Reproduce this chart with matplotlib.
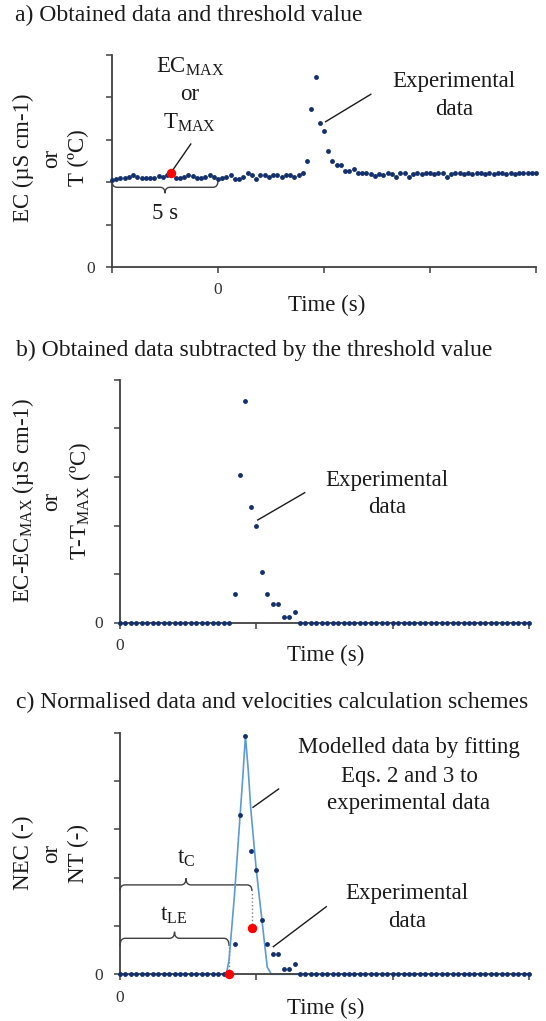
import numpy as np
import matplotlib
matplotlib.use("Agg")
import matplotlib.pyplot as plt
from matplotlib.path import Path
from matplotlib.patches import PathPatch
from matplotlib.lines import Line2D

plt.rcParams['font.family'] = ['Liberation Serif', 'DejaVu Serif']
plt.rcParams['mathtext.fontset'] = 'custom'
plt.rcParams['mathtext.rm'] = 'Liberation Serif'
plt.rcParams['mathtext.it'] = 'Liberation Serif:italic'
plt.rcParams['mathtext.bf'] = 'Liberation Serif:bold'

# ---------------------------------------------------------------- data
STEP = 0.2  # sampling interval (s)

# a) raw signal, sampled from -5 s to 15 s
time_a = np.round(np.arange(-5.0, 15.0 + STEP / 2, STEP), 1)
signal_a = [
    2.05, 2.07, 2.09, 2.11, 2.13, 2.17, 2.13, 2.11, 2.09, 2.09,
    2.11, 2.15, 2.13, 2.17, 2.22, 2.09, 2.11, 2.13, 2.17, 2.15,
    2.09, 2.09, 2.13, 2.17, 2.13, 2.07, 2.11, 2.13, 2.17, 2.07,
    2.07, 2.12, 2.21, 2.17, 2.07, 2.17, 2.17, 2.12, 2.17, 2.17,
    2.12, 2.17, 2.17, 2.12, 2.17, 2.21, 2.51, 3.73, 4.49, 3.40,
    3.21, 2.74, 2.51, 2.41, 2.41, 2.26, 2.26, 2.31, 2.22, 2.22,
    2.22, 2.19, 2.15, 2.19, 2.17, 2.22, 2.19, 2.13, 2.22, 2.22,
    2.13, 2.19, 2.22, 2.19, 2.22, 2.22, 2.19, 2.22, 2.22, 2.13,
    2.19, 2.22, 2.22, 2.19, 2.22, 2.19, 2.22, 2.22, 2.19, 2.22,
    2.19, 2.22, 2.22, 2.19, 2.22, 2.19, 2.22, 2.22, 2.22, 2.22,
    2.22,
]
threshold_index = 14          # maximum of the first 5 s (EC_MAX / T_MAX)

# b) signal minus threshold, from 0 s to 15 s
time_bc = np.round(np.arange(0.0, 15.0 + STEP / 2, STEP), 1)
signal_b = ([0.0] * 21
            + [0.58, 3.05, 4.57, 2.38, 2.00, 1.05, 0.58, 0.39, 0.39, 0.12, 0.12, 0.21]
            + [0.0] * 43)

# c) normalised signal and fitted model
signal_c = ([0.0] * 21
            + [0.124, 0.658, 0.986, 0.512, 0.430, 0.225, 0.124, 0.084, 0.084, 0.022, 0.022, 0.043]
            + [0.0] * 43)
model_t = [0.0, 3.9, 4.0, 4.2, 4.4, 4.5, 4.6, 4.7, 4.8, 5.0, 5.2, 5.4, 5.55, 15.0]
model_v = [0.0, 0.0, 0.06, 0.33, 0.65, 0.81, 0.986, 0.85, 0.68, 0.43, 0.23, 0.03, 0.0, 0.0]
t_le = 4.0                    # leading-edge arrival time
t_c = 4.84                    # centroid time
t_c_marker_level = 0.19

# ---------------------------------------------------------------- style
W, H = 546, 1021
DOT = '#13306c'
RED = '#ff0000'
MODEL = '#5b9bd5'
AXIS = '#404040'
INK = '#1a1a1a'
FS = 16.5
FS_TITLE = 17

fig = plt.figure(figsize=(W / 100, H / 100), dpi=100)


def fig_xy(x, y):
    """Pixel position (from top-left) to figure fraction."""
    return x / W, 1 - y / H


def axes_px(left, top, right, bottom):
    return fig.add_axes([left / W, 1 - bottom / H, (right - left) / W, (bottom - top) / H])


def style_axes(ax, xlim, ylim, xticks, yticks):
    ax.set_xlim(*xlim)
    ax.set_ylim(*ylim)
    ax.patch.set_visible(False)
    for s in ('top', 'right'):
        ax.spines[s].set_visible(False)
    for s in ('left', 'bottom'):
        ax.spines[s].set_color(AXIS)
        ax.spines[s].set_linewidth(1.3)
    ax.set_xticks(xticks)
    ax.set_xticklabels(['0' if t == 0 else '' for t in xticks])
    ax.set_yticks(yticks)
    ax.set_yticklabels(['0' if t == 0 else '' for t in yticks])
    ax.tick_params(direction='out', length=4, width=1.1, color=AXIS,
                   labelsize=12.5, labelcolor='#333333')
    ax.tick_params(axis='x', pad=7)
    ax.tick_params(axis='y', pad=8.5)


def brace(ax, x0, x1, xm, y_end, y_bar, y_tip, r_px=5, color=AXIS, lw=1.0):
    """Horizontal curly brace between x0 and x1 with its tip at xm."""
    x_lo, x_hi = ax.get_xlim()
    width_px = ax.get_position().width * W
    r = r_px * (x_hi - x_lo) / width_px
    verts = [(x0, y_end), (x0, y_bar), (x0 + r, y_bar),
             (xm - r, y_bar),
             (xm, y_bar), (xm, y_tip),
             (xm, y_bar), (xm + r, y_bar),
             (x1 - r, y_bar),
             (x1, y_bar), (x1, y_end)]
    codes = [Path.MOVETO, Path.CURVE3, Path.CURVE3,
             Path.LINETO,
             Path.CURVE3, Path.CURVE3,
             Path.CURVE3, Path.CURVE3,
             Path.LINETO,
             Path.CURVE3, Path.CURVE3]
    ax.add_patch(PathPatch(Path(verts, codes), facecolor='none', edgecolor=color,
                           lw=lw, clip_on=False, zorder=2))


def leader(p0, p1):
    fig.add_artist(Line2D([fig_xy(*p0)[0], fig_xy(*p1)[0]],
                          [fig_xy(*p0)[1], fig_xy(*p1)[1]],
                          color=INK, lw=1.0))


def ftext(x, y, s, **kw):
    kw.setdefault('fontsize', FS)
    kw.setdefault('color', INK)
    fig.text(*fig_xy(x, y), s, **kw)


def ylabel3(y_center, lines, xs):
    for x, s in zip(xs, lines):
        ftext(x, y_center, s, rotation=90, ha='center', va='center')


# ---------------------------------------------------------------- panel a
ax_a = axes_px(112, 55, 536, 267)
style_axes(ax_a, (-5, 15), (0, 5), [-5, 0, 5, 10, 15], [0, 1, 2, 3, 4, 5])
ax_a.plot(time_a, signal_a, 'o', ms=3.5, color=DOT, mec='none', clip_on=False, zorder=3)
ax_a.plot(time_a[threshold_index], signal_a[threshold_index], 'o', ms=6.8,
          color=RED, mec='none', clip_on=False, zorder=4)
brace(ax_a, -5, 0, -2.5, 2.04, 1.88, 1.74)

ftext(15, 15, 'a) Obtained data and threshold value', ha='left', va='center', fontsize=FS_TITLE)
ftext(190, 67, r'EC$_{\mathrm{MAX}}$', ha='center', va='center')
ftext(190, 94, 'or', ha='center', va='center')
ftext(190, 123, r'T$_{\mathrm{MAX}}$', ha='center', va='center')
leader((190.8, 144), (173.5, 169))
ftext(165, 213, '5 s', ha='center', va='center')
ftext(454, 82, 'Experimental', ha='center', va='center')
ftext(454, 109, 'data', ha='center', va='center')
leader((370.8, 94.3), (325.6, 121.7))
ftext(327, 305, 'Time (s)', ha='center', va='center')
ylabel3(158, ['EC (µS cm-1)', 'or', 'T (ºC)'], [23, 52, 78])

# ---------------------------------------------------------------- panel b
ax_b = axes_px(120, 380, 529, 622.5)
style_axes(ax_b, (0, 15), (0, 5), [0, 5, 10, 15], [0, 1, 2, 3, 4, 5])
ax_b.plot(time_bc, signal_b, 'o', ms=3.5, color=DOT, mec='none', clip_on=False, zorder=3)

ftext(16, 350, 'b) Obtained data subtracted by the threshold value', ha='left', va='center',
      fontsize=FS_TITLE)
ftext(387, 480, 'Experimental', ha='center', va='center')
ftext(387, 507, 'data', ha='center', va='center')
leader((304.7, 492.7), (257.7, 520))
ftext(326, 655, 'Time (s)', ha='center', va='center')
ylabel3(501, [r'EC-EC$_{\mathrm{MAX}}$ (µS cm-1)', 'or', r'T-T$_{\mathrm{MAX}}$ (ºC)'],
        [23, 52, 80])

# ---------------------------------------------------------------- panel c
ax_c = axes_px(120, 732.7, 529, 974.3)
style_axes(ax_c, (0, 15), (0, 1), [0, 5, 10, 15], [0, 0.2, 0.4, 0.6, 0.8, 1.0])
ax_c.plot(model_t, model_v, '-', lw=1.2, color=MODEL, zorder=2.5, clip_on=False)
ax_c.plot(time_bc, signal_c, 'o', ms=3.5, color=DOT, mec='none', clip_on=False, zorder=3)
ax_c.plot([t_le, t_c], [0.0, t_c_marker_level], 'o', ms=6.8, color=RED, mec='none',
          clip_on=False, zorder=4)
ax_c.plot([t_le, t_le], [0.0, 0.117], ':', color='#7f7f7f', lw=1.0, zorder=2)
ax_c.plot([t_c, t_c], [t_c_marker_level, 0.345], ':', color='#7f7f7f', lw=1.0, zorder=2)
brace(ax_c, 0, t_c, t_c / 2, 0.345, 0.37, 0.397)
brace(ax_c, 0, t_le, t_le / 2, 0.117, 0.149, 0.176)

ftext(16, 702, 'c) Normalised data and velocities calculation schemes', ha='left', va='center',
      fontsize=FS_TITLE)
ftext(186, 858, r't$_{\mathrm{C}}$', ha='center', va='center')
ftext(174, 915, r't$_{\mathrm{LE}}$', ha='center', va='center')
ftext(409, 747, 'Modelled data by fitting', ha='center', va='center')
ftext(409, 776, 'Eqs. 2 and 3 to', ha='center', va='center')
ftext(409, 803, 'experimental data', ha='center', va='center')
leader((278.6, 789), (253, 807.3))
ftext(407, 893, 'Experimental', ha='center', va='center')
ftext(407, 921, 'data', ha='center', va='center')
leader((326.3, 906.7), (273.3, 946.7))
ftext(326, 1008, 'Time (s)', ha='center', va='center')
ylabel3(853, ['NEC (-)', 'or', 'NT (-)'], [23, 52, 78])

fig.savefig('out.png', dpi=100, facecolor='white')
